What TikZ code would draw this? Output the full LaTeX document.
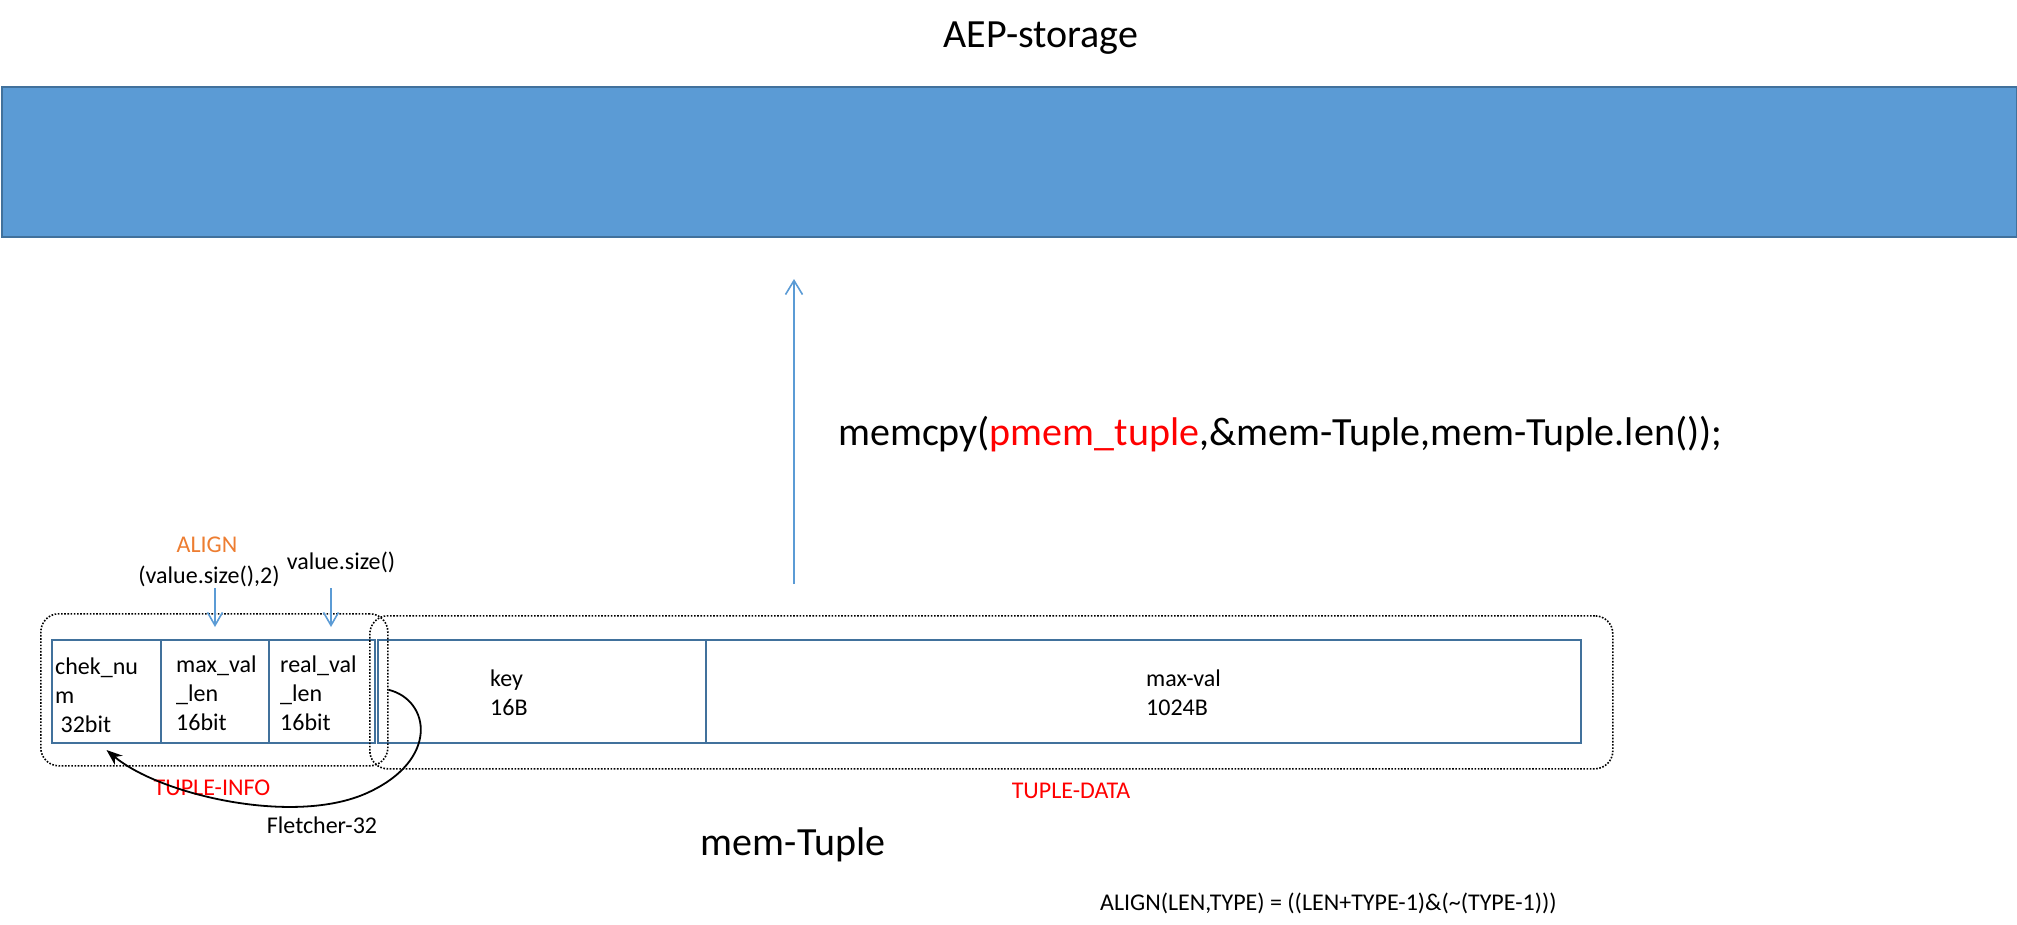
\documentclass[tikz,border=0pt]{standalone}
\usepackage{fontspec}
\setmainfont{Carlito}
\usetikzlibrary{arrows.meta}
\usetikzlibrary{positioning}
\definecolor{aepblue}{HTML}{5B9BD5}
\definecolor{aepedge}{HTML}{41719C}
\definecolor{alignorange}{HTML}{ED7D31}
\tikzset{
    cell/.style={
           rectangle,
           draw=aepedge, line width=2pt,
           minimum height=103pt,
           inner sep=0pt, outer sep=0pt,
           },
    celltext/.style={
           align=left,
           inner sep=0pt,
           anchor=base west,
           font=\fontsize{24}{29}\selectfont,
           },
    group/.style={
           rectangle,
           rounded corners=18pt,
           draw=black, line width=1.6pt,
           dash pattern=on 1.6pt off 1.6pt,
           inner sep=0pt,
           anchor=north west,
           },
    small/.style={font=\fontsize{24}{29}\selectfont, inner sep=0pt, anchor=base},
    big/.style={font=\fontsize{40}{48}\selectfont, inner sep=0pt, anchor=base},
    hint/.style={-{Straight Barb[length=13pt,width=15pt]}, draw=aepblue, line width=1.6pt},
}

\begin{document}
\begin{tikzpicture}[x=1pt,y=-1pt]
 \useasboundingbox (0,0) rectangle (2017,924);

 % AEP storage block
 \node[rectangle, fill=aepblue, draw=aepedge, line width=2pt,
  minimum width=2015pt, minimum height=150pt,
  anchor=north west, inner sep=0pt] (storage) at (1,86) {};
 \node[big] (title) at (1041,47) {AEP-storage};

 % mem-Tuple cells
 \node[cell, anchor=north west, minimum width=109pt] (chek) at (52,640) {};
 \node[cell, minimum width=108pt, right=0pt of chek] (maxlen) {};
 \node[cell, minimum width=106pt, right=0pt of maxlen] (reallen) {};
 \node[cell, minimum width=328pt, right=3pt of reallen] (key) {};
 \node[cell, minimum width=875pt, right=0pt of key] (maxval) {};

 % last line sits on the given baseline
 \node[celltext] (chektext) at (55,732) {chek\_nu\\m\\\hspace{5.4pt}32bit};
 \node[celltext] (maxlentext) at (176,730) {max\_val\\\_len\\16bit};
 \node[celltext] (reallentext) at (280,730) {real\_val\\\_len\\16bit};
 \node[celltext] (keytext) at (490,715) {key\\16B};
 \node[celltext] (maxvaltext) at (1146,715) {max-val\\1024B};

 % dotted groups
 \node[group, minimum width=347pt, minimum height=152pt] (info) at (40,613) {};
 \node[group, minimum width=1243pt, minimum height=153pt] (data) at (369,615) {};
 \node[small, text=red] (infolabel) at (212,795) {TUPLE-INFO};
 \node[small, text=red] (datalabel) at (1071,798) {TUPLE-DATA};

 % size hints
 \node[small, text=alignorange] (align) at (207,552) {ALIGN};
 \node[small] (alignarg) at (209,583) {(value.size(),2)};
 \node[small] (realsize) at (341,569) {value.size()};
 \coordinate (alignfrom) at (215,588);
 \coordinate (alignto) at (215,627);
 \coordinate (sizefrom) at (331,588);
 \coordinate (sizeto) at (331,627);
 \draw[hint] (alignfrom) -- (alignto);
 \draw[hint] (sizefrom) -- (sizeto);

 % checksum
 \draw[-{Stealth[length=16pt,width=12pt]}, line width=1.8pt]
  (info.east) .. controls (430,700) and (440,760) .. (367,793)
  .. controls (294,826) and (160,795) .. ([yshift=-7pt]chek.south);
 \node[small] (fletcher) at (322,833) {Fletcher-32};

 % copy to storage
 \coordinate (copyfrom) at (794,584);
 \coordinate (copyto) at (794,279);
 \draw[-{Straight Barb[length=14pt,width=17pt]}, draw=aepblue, line width=1.6pt]
  (copyfrom) -- (copyto);
 \node[big, anchor=base west] (memcpy) at (838,445)
  {memcpy(\textcolor{red}{pmem\_tuple},\&mem-Tuple,mem-Tuple.len());};

 \node[big] (memtuple) at (793,855) {mem-Tuple};
 \node[small, anchor=base west] (formula) at (1100,910)
  {ALIGN(LEN,TYPE) = ((LEN+TYPE-1)\&(\textasciitilde(TYPE-1)))};

\end{tikzpicture}
\end{document}
